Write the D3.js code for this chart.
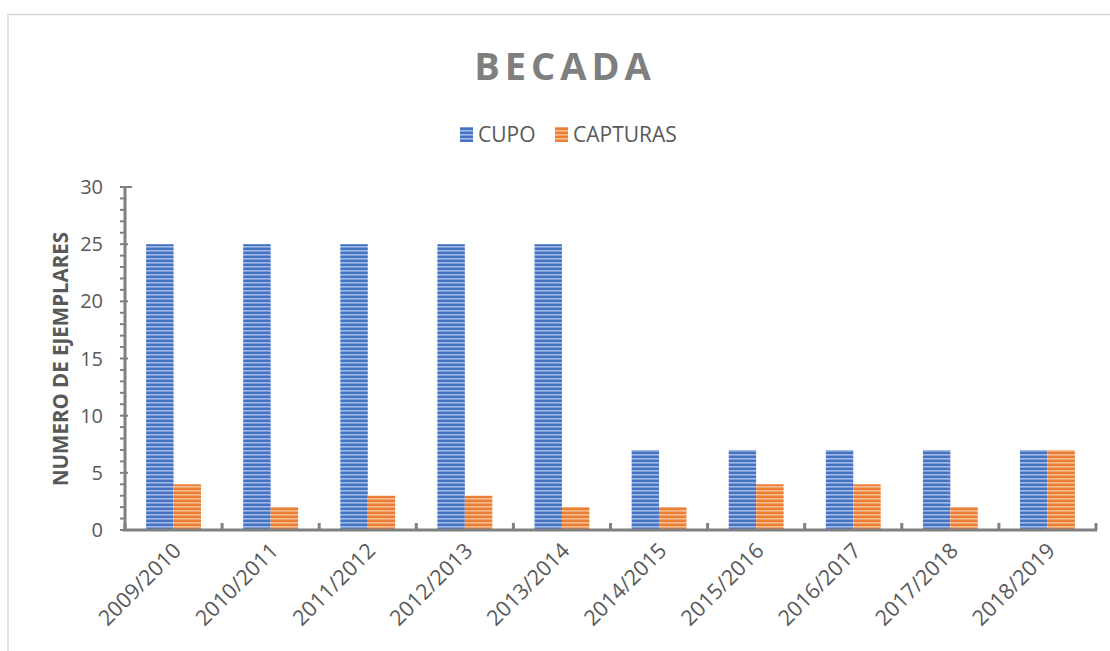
<!DOCTYPE html>
<html><head><meta charset="utf-8">
<script src="https://cdn.jsdelivr.net/npm/d3@7"></script>
<style>body{margin:0;background:#fff;}svg{display:block;font-family:"Open Sans",sans-serif;}</style>
</head><body>
<svg id="c" width="1110" height="651"></svg>
<script>
const categories = ["2009/2010","2010/2011","2011/2012","2012/2013","2013/2014","2014/2015","2015/2016","2016/2017","2017/2018","2018/2019"];
const cupo = [25,25,25,25,25,7,7,7,7,7];
const capturas = [4,2,3,3,2,2,4,4,2,7];
const seriesNames = ["CUPO","CAPTURAS"];
const yTicks = [0,5,10,15,20,25,30];

const svg = d3.select("#c");
const m = {left:125, right:1096, top:187, bottom:530};

// frame
svg.append("rect").attr("x",8).attr("y",14.5).attr("width",1120).attr("height",660)
  .attr("fill","none").attr("stroke","#d9d9d9").attr("stroke-width",1.5);

// patterns
const defs = svg.append("defs");
function pat(id, base, light){
  const p = defs.append("pattern").attr("id",id).attr("patternUnits","userSpaceOnUse")
    .attr("width",8).attr("height",4);
  p.append("rect").attr("width",8).attr("height",4).attr("fill",base);
  p.append("rect").attr("y",2).attr("width",8).attr("height",1.6).attr("fill",light);
}
pat("pBlue","#4472C4","#a3b9e4");
pat("pOrange","#ED7D31","#f7bd95");
const fills = ["url(#pBlue)","url(#pOrange)"];

const x = d3.scaleBand().domain(categories).range([m.left,m.right]).paddingInner(0).paddingOuter(0);
const x1 = d3.scaleBand().domain(seriesNames).range([0,x.bandwidth()]).paddingInner(0).paddingOuter(0.77);
const y = d3.scaleLinear().domain([0,30]).range([m.bottom,m.top]);

// title
svg.append("text").attr("x",565).attr("y",80).attr("text-anchor","middle")
  .attr("font-size",38).attr("font-weight","bold").attr("fill","#7f7f7f")
  .attr("letter-spacing",5).text("BECADA");

// legend
const leg = svg.append("g");
const legItems = [{n:"CUPO",x:460},{n:"CAPTURAS",x:555}];
legItems.forEach((d,i)=>{
  leg.append("rect").attr("x",d.x).attr("y",127).attr("width",13).attr("height",15).attr("fill",fills[i]);
  leg.append("text").attr("x",d.x+18).attr("y",142).attr("font-size",21).attr("fill","#595959").text(d.n);
});

// bars
const data = categories.map((c,i)=>({c, vals:[cupo[i],capturas[i]]}));
const g = svg.append("g");
data.forEach(d=>{
  d.vals.forEach((v,j)=>{
    g.append("rect").attr("x",x(d.c)+x1(seriesNames[j])).attr("y",y(v))
      .attr("width",x1.bandwidth()).attr("height",y(0)-y(v)).attr("fill",fills[j]);
  });
});

// y axis
const axisCol = "#808080";
svg.append("line").attr("x1",m.left).attr("x2",m.left).attr("y1",y(30)).attr("y2",y(0))
  .attr("stroke",axisCol).attr("stroke-width",3);
d3.range(0,31).forEach(v=>{
  const major = v%5===0;
  svg.append("line").attr("x1",m.left-5).attr("x2",major? m.left+ (v===30?7:3) : m.left)
    .attr("y1",y(v)).attr("y2",y(v)).attr("stroke",axisCol).attr("stroke-width",2);
});
yTicks.forEach(v=>{
  svg.append("text").attr("x",103).attr("y",y(v)+7).attr("text-anchor","end")
    .attr("font-size",20).attr("fill","#595959").text(v);
});
svg.append("text").attr("transform","translate(68,359) rotate(-90)").attr("text-anchor","middle")
  .attr("font-size",20.5).attr("font-weight","bold").attr("fill","#595959").text("NUMERO DE EJEMPLARES");

// x axis
svg.append("line").attr("x1",m.left-2).attr("x2",m.right+1).attr("y1",m.bottom).attr("y2",m.bottom)
  .attr("stroke",axisCol).attr("stroke-width",3);
categories.concat([null]).forEach(c=>{
  const xx = c ? x(c) : m.right;
  svg.append("line").attr("x1",xx).attr("x2",xx).attr("y1",m.bottom).attr("y2",m.bottom-7)
    .attr("stroke",axisCol).attr("stroke-width",3);
});
categories.forEach(c=>{
  const cx = x(c)+x.bandwidth()/2;
  svg.append("text").attr("transform",`translate(${cx+9},${m.bottom+22}) rotate(-45)`)
    .attr("text-anchor","end").attr("font-size",21.5).attr("fill","#595959").text(c);
});
</script>
</body></html>
